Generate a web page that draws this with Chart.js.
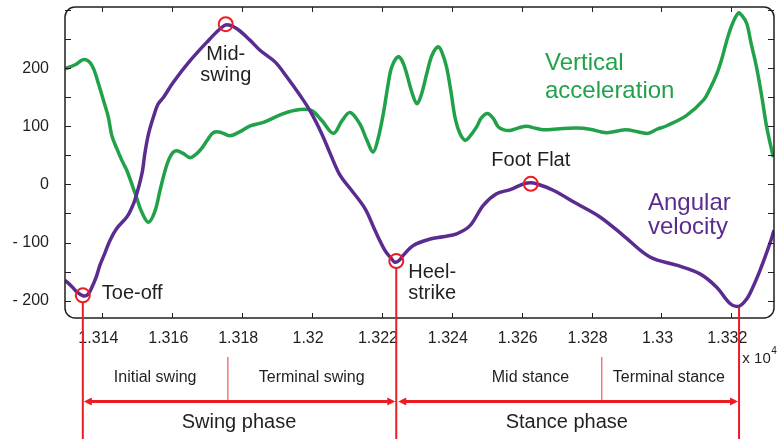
<!DOCTYPE html>
<html>
<head>
<meta charset="utf-8">
<script src="https://cdn.jsdelivr.net/npm/chart.js@4.4.0/dist/chart.umd.min.js"></script>
<style>
  html, body { margin: 0; padding: 0; background: #fff; }
  #wrap { width: 778px; height: 439px; }
</style>
</head>
<body>
<div id="wrap"><canvas id="gaitChart" width="778" height="439"></canvas></div>
<script>
// time axis is in units of 1e4 samples (label "x 10^4")
const accelX = [1.31293, 1.31322, 1.31348, 1.31370, 1.31389, 1.31403, 1.31417, 1.31427, 1.31441, 1.31456,
  1.31470, 1.31494, 1.31513, 1.31532, 1.31551, 1.31565, 1.31584, 1.31599, 1.31613, 1.31632,
  1.31651, 1.31670, 1.31684, 1.31700, 1.31717, 1.31737, 1.31765, 1.31794, 1.31823, 1.31861,
  1.31918, 1.31966, 1.31999, 1.32028, 1.32061, 1.32086, 1.32109, 1.32137, 1.32157, 1.32175,
  1.32189, 1.32204, 1.32217, 1.32228, 1.32247, 1.32260, 1.32271, 1.32286, 1.32300, 1.32312,
  1.32328, 1.32343, 1.32361, 1.32372, 1.32385, 1.32398, 1.32409, 1.32423, 1.32438, 1.32452,
  1.32471, 1.32484, 1.32502, 1.32518, 1.32533, 1.32549, 1.32567, 1.32589, 1.32614, 1.32638,
  1.32662, 1.32710, 1.32757, 1.32795, 1.32843, 1.32896, 1.32938, 1.32962, 1.32987, 1.33015,
  1.33072, 1.33120, 1.33139, 1.33158, 1.33173, 1.33187, 1.33202, 1.33220, 1.33230, 1.33244,
  1.33256, 1.33272, 1.33288, 1.33301, 1.33320];
const accelY = [199, 206, 215, 205, 173, 145, 116, 84, 62, 41,
  24, -16, -48, -65, -45, -10, 33, 53, 58, 53,
  46, 53, 62, 76, 89, 90, 84, 91, 101, 107,
  122, 129, 127, 110, 88, 110, 124, 104, 76, 56,
  79, 122, 170, 202, 220, 210, 190, 158, 139, 153,
  190, 222, 237, 227, 202, 158, 116, 88, 76, 83,
  99, 114, 122, 114, 99, 94, 93, 97, 100, 97,
  94, 96, 97, 95, 89, 94, 90, 88, 95, 101,
  119, 145, 165, 190, 217, 248, 275, 295, 291, 277,
  244, 202, 148, 99, 47];

const gyroX = [1.31293, 1.31313, 1.31327, 1.31346, 1.31359, 1.31370, 1.31382, 1.31393, 1.31408, 1.31422,
  1.31441, 1.31470, 1.31482, 1.31494, 1.31513, 1.31522, 1.31532, 1.31546, 1.31559, 1.31575,
  1.31603, 1.31651, 1.31699, 1.31737, 1.31756, 1.31785, 1.31823, 1.31851, 1.31894, 1.31928,
  1.31966, 1.31994, 1.32028, 1.32052, 1.32080, 1.32109, 1.32152, 1.32180, 1.32209, 1.32226,
  1.32237, 1.32249, 1.32261, 1.32290, 1.32338, 1.32375, 1.32414, 1.32452, 1.32490, 1.32528,
  1.32567, 1.32605, 1.32626, 1.32643, 1.32690, 1.32757, 1.32824, 1.32891, 1.32967, 1.33043,
  1.33110, 1.33158, 1.33196, 1.33220, 1.33239, 1.33253, 1.33282, 1.33310, 1.33322];
const gyroY = [-165, -176, -185, -192, -189, -177, -160, -139, -117, -96,
  -76, -56, -43, -25, 18, 55, 87, 116, 138, 150,
  176, 213, 245, 268, 275, 268, 248, 231, 211, 185,
  153, 127, 87, 53, 16, -7, -42, -79, -114, -127,
  -134, -131, -122, -105, -94, -90, -85, -71, -36, -16,
  -9, 1, 3, 1, -10, -33, -56, -88, -125, -139,
  -154, -177, -205, -210, -201, -188, -148, -102, -79];

const eventNames = ['Toe-off', 'Mid-\nswing', 'Heel-\nstrike', 'Foot Flat'];
const eventX = [1.31344, 1.31753, 1.32241, 1.32626];
const eventY = [-191, 276, -132, 1];

const phaseBounds = [1.31344, 1.32241, 1.33222];
const phaseEndY = -212;
const subPhaseSplits = [1.31759, 1.32829];
const subPhaseNames = ['Initial swing', 'Terminal swing', 'Mid stance', 'Terminal stance'];
const subPhaseX = [1.31551, 1.31999, 1.32625, 1.33021];
const phaseNames = ['Swing phase', 'Stance phase'];
const phaseX = [1.31791, 1.32729];

const xTicks = [1.314, 1.316, 1.318, 1.32, 1.322, 1.324, 1.326, 1.328, 1.33, 1.332];
const xTickLabels = ['1.314', '1.316', '1.318', '1.32', '1.322', '1.324', '1.326', '1.328', '1.33', '1.332'];
const yTicks = [-200, -150, -100, -50, 0, 50, 100, 150, 200, 250, 300];
const yTickLabels = ['- 200', '', '- 100', '', '0', '', '100', '', '200', '', ''];

const GREEN = '#22a14b';
const PURPLE = '#5b2c90';
const RED = '#ec1c24';
const INK = '#231f20';
const FONT = '"Liberation Sans", Arial, Helvetica, sans-serif';

function toPoints(xs, ys) {
    return xs.map((x, i) => ({ x: x, y: ys[i] }));
}

function arrow(ctx, x1, x2, y) {
    ctx.beginPath();
    ctx.moveTo(x1 + 4, y);
    ctx.lineTo(x2 - 4, y);
    ctx.stroke();
    ctx.beginPath();
    ctx.moveTo(x1, y); ctx.lineTo(x1 + 8, y - 4); ctx.lineTo(x1 + 8, y + 4); ctx.closePath();
    ctx.moveTo(x2, y); ctx.lineTo(x2 - 8, y - 4); ctx.lineTo(x2 - 8, y + 4); ctx.closePath();
    ctx.fill();
}

const decor = {
    id: 'decor',
    afterDatasetsDraw(chart) {
        const { ctx, chartArea: a, scales: { x, y } } = chart;
        ctx.save();

        // rounded frame + inward ticks on all four sides
        ctx.strokeStyle = INK;
        ctx.lineWidth = 1.5;
        ctx.beginPath();
        ctx.roundRect(a.left, a.top, a.right - a.left, a.bottom - a.top, 10);
        ctx.stroke();
        ctx.lineWidth = 1;
        ctx.beginPath();
        xTicks.forEach(v => {
            const px = Math.round(x.getPixelForValue(v)) + 0.5;
            ctx.moveTo(px, a.bottom); ctx.lineTo(px, a.bottom - 5);
            ctx.moveTo(px, a.top); ctx.lineTo(px, a.top + 5);
        });
        yTicks.forEach(v => {
            const py = Math.round(y.getPixelForValue(v)) + 0.5;
            ctx.moveTo(a.left, py); ctx.lineTo(a.left + 6, py);
            ctx.moveTo(a.right, py); ctx.lineTo(a.right - 6, py);
        });
        ctx.stroke();

        // exponent label
        const ex = x.getPixelForValue(1.332) + 11;
        ctx.fillStyle = INK;
        ctx.textBaseline = 'alphabetic';
        ctx.textAlign = 'left';
        ctx.font = '15px ' + FONT;
        ctx.fillText('x 10', ex, 363);
        ctx.font = '10px ' + FONT;
        ctx.fillText('4', ex + 29, 354);

        // event markers: labels + drop lines
        ctx.font = '20px ' + FONT;
        const lab = (i, dx, dy, align) => {
            const px = x.getPixelForValue(eventX[i]);
            const py = y.getPixelForValue(eventY[i]);
            ctx.textAlign = align;
            eventNames[i].split('\n').forEach((t, k) => ctx.fillText(t, px + dx, py + dy + k * 21));
        };
        lab(0, 19, 4, 'left');
        lab(1, 0, 36, 'center');
        lab(2, 12, 17, 'left');
        lab(3, 0, -18, 'center');

        // series names
        ctx.font = '24px ' + FONT;
        ctx.textAlign = 'left';
        ctx.fillStyle = GREEN;
        ctx.fillText('Vertical', 545, 70);
        ctx.fillText('acceleration', 545, 98);
        ctx.fillStyle = PURPLE;
        ctx.fillText('Angular', 648, 210);
        ctx.fillText('velocity', 648, 234);

        // phase lines
        const bx = phaseBounds.map(v => x.getPixelForValue(v));
        ctx.strokeStyle = RED;
        ctx.fillStyle = RED;
        ctx.lineWidth = 2;
        ctx.beginPath();
        [0, 2].forEach(i => {
            ctx.moveTo(x.getPixelForValue(eventX[i]), y.getPixelForValue(eventY[i]) + 7);
            ctx.lineTo(x.getPixelForValue(eventX[i]), 439);
        });
        ctx.moveTo(bx[2], y.getPixelForValue(phaseEndY));
        ctx.lineTo(bx[2], 439);
        ctx.stroke();

        ctx.strokeStyle = 'rgba(236,28,36,0.6)';
        ctx.lineWidth = 1.5;
        ctx.beginPath();
        subPhaseSplits.forEach(v => {
            const px = x.getPixelForValue(v);
            ctx.moveTo(px, 357); ctx.lineTo(px, 400);
        });
        ctx.stroke();

        ctx.strokeStyle = RED;
        ctx.lineWidth = 3;
        arrow(ctx, bx[0] + 1, bx[1] - 1, 401.5);
        arrow(ctx, bx[1] + 2, bx[2] - 1, 401.5);

        // phase texts
        ctx.fillStyle = INK;
        ctx.textAlign = 'center';
        ctx.font = '16px ' + FONT;
        subPhaseNames.forEach((t, i) => ctx.fillText(t, x.getPixelForValue(subPhaseX[i]), 381.5));
        ctx.font = '20px ' + FONT;
        phaseNames.forEach((t, i) => ctx.fillText(t, x.getPixelForValue(phaseX[i]), 428));

        ctx.restore();
    }
};

const ctx = document.getElementById('gaitChart').getContext('2d');
const gaitChart = new Chart(ctx, {
    type: 'line',
    data: {
        datasets: [
            {
                label: 'events',
                data: toPoints(eventX, eventY),
                showLine: false,
                pointRadius: 7,
                pointBorderWidth: 2,
                pointBorderColor: RED,
                pointBackgroundColor: 'rgba(0,0,0,0)',
                order: 0
            },
            {
                label: 'Angular velocity',
                data: toPoints(gyroX, gyroY),
                borderColor: PURPLE,
                borderWidth: 3.5,
                pointRadius: 0,
                tension: 0.35,
                order: 1
            },
            {
                label: 'Vertical acceleration',
                data: toPoints(accelX, accelY),
                borderColor: GREEN,
                borderWidth: 3.5,
                pointRadius: 0,
                tension: 0.35,
                order: 2
            }
        ]
    },
    options: {
        responsive: false,
        animation: false,
        devicePixelRatio: 1,
        layout: { autoPadding: false, padding: { top: 7, right: 4, left: 0, bottom: 0 } },
        plugins: { legend: { display: false }, tooltip: { enabled: false } },
        scales: {
            x: {
                type: 'linear',
                min: 1.31293,
                max: 1.33322,
                grid: { display: false, drawTicks: false },
                border: { display: false },
                afterBuildTicks: axis => { axis.ticks = xTicks.map(v => ({ value: v })); },
                afterFit: axis => { axis.height = 121; axis.paddingLeft = 0; axis.paddingRight = 0; },
                ticks: {
                    autoSkip: false,
                    maxRotation: 0,
                    padding: 11,
                    labelOffset: -4,
                    color: INK,
                    font: { family: FONT, size: 16 },
                    callback: (v, i) => xTickLabels[i]
                }
            },
            y: {
                min: -230,
                max: 305.5,
                grid: { display: false, drawTicks: false },
                border: { display: false },
                afterBuildTicks: axis => { axis.ticks = yTicks.map(v => ({ value: v })); },
                afterFit: axis => { axis.width = 65; axis.paddingTop = 0; axis.paddingBottom = 0; },
                ticks: {
                    autoSkip: false,
                    padding: 16,
                    color: INK,
                    font: { family: FONT, size: 16 },
                    callback: (v, i) => yTickLabels[i]
                }
            }
        }
    },
    plugins: [decor]
});
</script>
</body>
</html>
